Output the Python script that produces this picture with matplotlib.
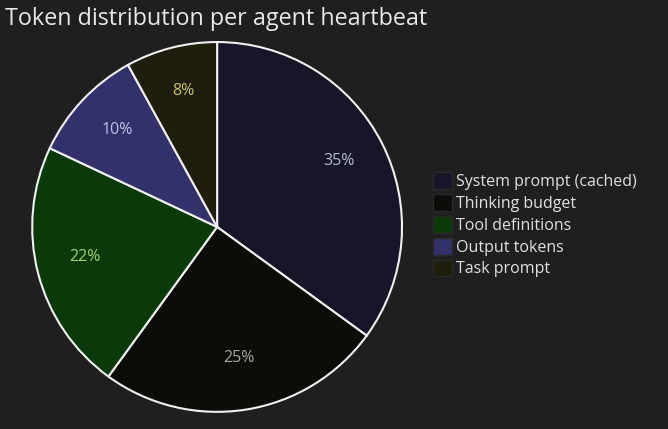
import matplotlib
matplotlib.use('Agg')
import matplotlib.pyplot as plt

# data
labels = ['System prompt (cached)', 'Thinking budget', 'Tool definitions',
          'Output tokens', 'Task prompt']
values = [35, 25, 22, 10, 8]
colors = ['#161628', '#0c0c09', '#0a3a0a', '#33316b', '#1f1d0b']
text_colors = ['#b8b8d0', '#a8a8a0', '#a8d070', '#c0c0e8', '#c8c070']

BG = '#1f1f1f'
plt.rcParams['font.family'] = ['Open Sans', 'DejaVu Sans']

fig = plt.figure(figsize=(6.68, 4.29), dpi=100, facecolor=BG)
ax = fig.add_axes([0.048, 0.04, 0.554, 0.862])
ax.set_facecolor(BG)

wedges, texts, autotexts = ax.pie(
    values, colors=colors, startangle=90, counterclock=False,
    autopct='%1.0f%%', pctdistance=0.74,
    wedgeprops=dict(edgecolor='#f0f0f0', linewidth=1.5),
    textprops=dict(fontsize=11.5))
for t, c in zip(autotexts, text_colors):
    t.set_color(c)
    x, y = t.get_position()
    t.set_position((x, y + 0.02))
ax.set_xlim(-1.0, 1.0)
ax.set_ylim(-1.0, 1.0)
ax.set_aspect('equal')
ax.axis('off')

fig.text(0.008, 0.955, 'Token distribution per agent heartbeat',
         color='#e8e8e8', fontsize=16.8, ha='left', va='center')

leg = fig.legend(wedges, labels, loc='center left',
                 bbox_to_anchor=(0.6355, 0.476), frameon=False,
                 fontsize=11.5, labelcolor='#e0e0e0',
                 handlelength=1.25, handleheight=1.25, handletextpad=0.2,
                 labelspacing=0.25, borderpad=0)
for h in leg.legend_handles:
    h.set_edgecolor('#2a2a2a')
    h.set_linewidth(1)

fig.savefig('out.png', dpi=100, facecolor=BG)
